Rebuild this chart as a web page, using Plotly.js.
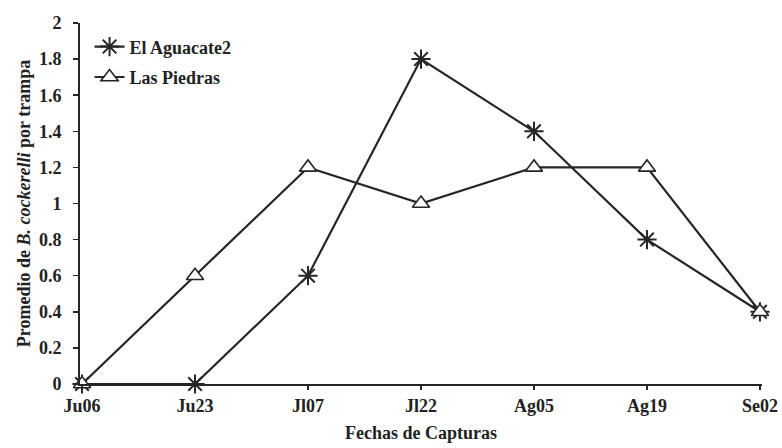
<!DOCTYPE html>
<html>
<head>
<meta charset="utf-8">
<script src="https://cdn.plot.ly/plotly-3.0.1.min.js"></script>
<style>html,body{margin:0;padding:0;background:#fff;}#chart{width:782px;height:448px;}</style>
</head>
<body>
<div id="chart"></div>
<script>
const categories = ["Ju06", "Ju23", "Jl07", "Jl22", "Ag05", "Ag19", "Se02"];
const aguacate = [0, 0, 0.6, 1.8, 1.4, 0.8, 0.4];
const piedras = [0, 0.6, 1.2, 1.0, 1.2, 1.2, 0.4];
const seriesNames = ["El Aguacate2", "Las Piedras"];
const yTicks = [0, 0.2, 0.4, 0.6, 0.8, 1, 1.2, 1.4, 1.6, 1.8, 2];

const ink = "#262626";
const serif = "Liberation Serif";

const traces = [
  {
    x: categories, y: aguacate, name: seriesNames[0], type: "scatter", mode: "lines+markers",
    legendgroup: "a",
    line: {color: ink, width: 2.2},
    marker: {symbol: "asterisk-open", size: 16, color: ink, line: {color: ink, width: 2}},
    cliponaxis: false
  },
  {
    x: categories, y: piedras, name: seriesNames[1], type: "scatter", mode: "lines+markers",
    legendgroup: "b",
    line: {color: ink, width: 2.2},
    marker: {symbol: "triangle-up", size: 15, color: "#fff", line: {color: ink, width: 1.6}},
    cliponaxis: false
  }
];

const layout = {
  width: 782, height: 448,
  margin: {l: 80, r: 20, t: 23, b: 64},
  paper_bgcolor: "#fff", plot_bgcolor: "#fff",
  font: {family: serif, size: 18, color: "#222", weight: "bold"},
  showlegend: true,
  legend: {x: 0.014, y: 0.985, xanchor: "left", yanchor: "top", bgcolor: "rgba(0,0,0,0)",
           traceorder: "grouped", tracegroupgap: 4,
           font: {family: serif, size: 18, color: "#222", weight: "bold"}, itemwidth: 30},
  xaxis: {
    type: "category", range: [-0.018, 6.018],
    showgrid: false, zeroline: false, showline: true, linecolor: ink, linewidth: 2,
    ticks: "outside", ticklen: 4, tickcolor: ink, tickwidth: 1.5,
    tickfont: {family: serif, size: 18, color: "#222", weight: "bold"},
    title: {text: "Fechas de Capturas", font: {family: serif, size: 18, color: "#222", weight: "bold"}, standoff: 12}
  },
  yaxis: {
    range: [0, 2], tickvals: yTicks, ticktext: yTicks.map(v => String(v)),
    showgrid: false, zeroline: false, showline: true, linecolor: ink, linewidth: 2,
    ticks: "outside", ticklen: 5, tickcolor: ink, tickwidth: 1.5, ticklabelstandoff: 8,
    tickfont: {family: serif, size: 18, color: "#222", weight: "bold"},
    title: {text: "Promedio de <i>B. cockerelli</i> por trampa", font: {family: serif, size: 18, color: "#222", weight: "bold"}, standoff: 4}
  }
};

Plotly.newPlot("chart", traces, layout, {displayModeBar: false, staticPlot: true});
</script>
</body>
</html>
